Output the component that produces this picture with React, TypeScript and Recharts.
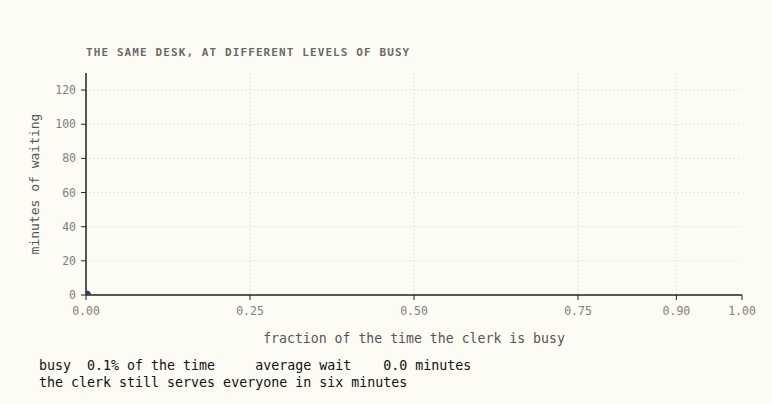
import { ScatterChart, Scatter, XAxis, YAxis, CartesianGrid } from 'recharts';

const busyTicks = [0, 0.25, 0.5, 0.75, 0.9, 1];
const waitTicks = [0, 20, 40, 60, 80, 100, 120];
const gridBusy = [0.25, 0.5, 0.75, 0.9];
const points = [{ busy: 0.001, wait: 0.0 }];

const mono = '"DejaVu Sans Mono", "Liberation Mono", monospace';
const bg = '#fcfbf4';

export default function App() {
  return (
    <div style={{ position: 'relative', width: 772, height: 404, background: bg, fontFamily: mono }}>
      <style>{`body{margin:0;background:${bg}}`}</style>
      <div
        style={{
          position: 'absolute',
          left: 86,
          top: 46,
          fontSize: 11,
          fontWeight: 'bold',
          letterSpacing: 1.1,
          color: '#6a6a6a',
          whiteSpace: 'pre'
        }}
      >
        THE SAME DESK, AT DIFFERENT LEVELS OF BUSY
      </div>
      <div style={{ position: 'absolute', left: 0, top: 0 }}>
        <ScatterChart width={772} height={351} margin={{ top: 73, right: 30, left: 0, bottom: 0 }}>
          <CartesianGrid
            stroke="#cfcfc6"
            strokeDasharray="1 3"
            verticalValues={gridBusy}
            horizontalValues={waitTicks.slice(1)}
          />
          <XAxis
            type="number"
            dataKey="busy"
            domain={[0, 1]}
            ticks={busyTicks}
            allowDataOverflow
            height={56}
            tickFormatter={(v) => Number(v).toFixed(2)}
            tick={{ fontSize: 11.5, fill: '#808080', fontFamily: mono }}
            tickSize={5}
            tickMargin={7}
            axisLine={{ stroke: '#222', strokeWidth: 1.5 }}
            tickLine={{ stroke: '#222' }}
            label={{
              value: 'fraction of the time the clerk is busy',
              position: 'insideBottom',
              offset: 8,
              style: { fontSize: 13.2, fill: '#555', fontFamily: mono }
            }}
          />
          <YAxis
            type="number"
            dataKey="wait"
            domain={[0, 130]}
            ticks={waitTicks}
            allowDataOverflow
            width={86}
            tick={{ fontSize: 11.5, fill: '#808080', fontFamily: mono }}
            tickSize={5}
            tickMargin={5}
            axisLine={{ stroke: '#222', strokeWidth: 1.5 }}
            tickLine={{ stroke: '#222' }}
            label={{
              value: 'minutes of waiting',
              angle: -90,
              position: 'insideLeft',
              offset: 34,
              style: { fontSize: 13, fill: '#555', fontFamily: mono, textAnchor: 'middle' }
            }}
          />
          <Scatter
            data={points}
            isAnimationActive={false}
            shape={(p: any) => <circle cx={p.cx} cy={p.cy} r={4.5} fill="#2d4263" />}
          />
        </ScatterChart>
      </div>
      <div
        style={{
          position: 'absolute',
          left: 39,
          top: 357,
          fontSize: 13.3,
          lineHeight: '17px',
          color: '#111',
          whiteSpace: 'pre'
        }}
      >
        {'busy  0.1% of the time     average wait    0.0 minutes\nthe clerk still serves everyone in six minutes'}
      </div>
    </div>
  );
}
